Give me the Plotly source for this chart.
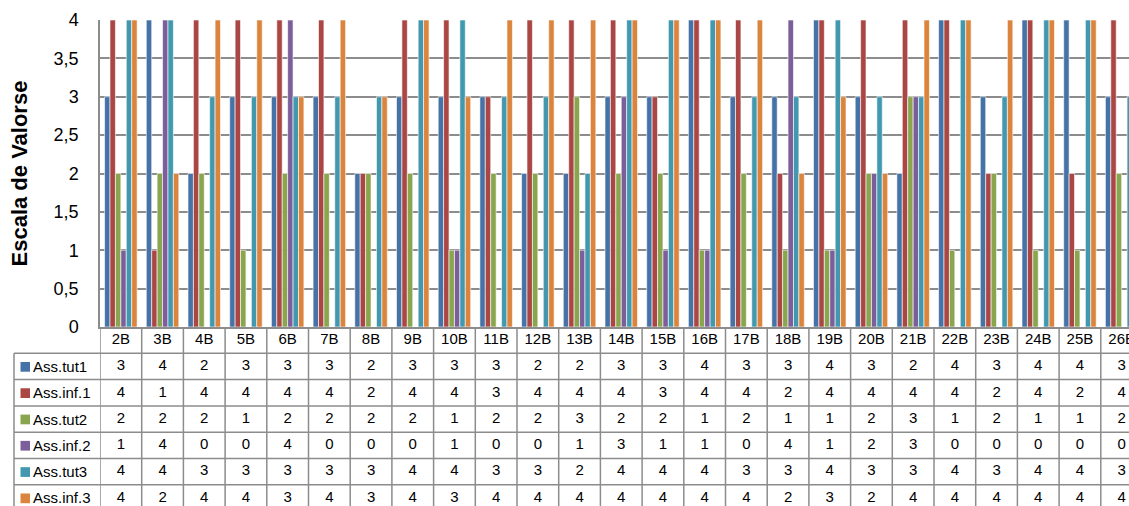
import plotly.graph_objects as go

# ---------------- data ----------------
categories = ["2B", "3B", "4B", "5B", "6B", "7B", "8B", "9B", "10B", "11B", "12B", "13B",
              "14B", "15B", "16B", "17B", "18B", "19B", "20B", "21B", "22B", "23B", "24B",
              "25B", "26B"]

series_names = ["Ass.tut1", "Ass.inf.1", "Ass.tut2", "Ass.inf.2", "Ass.tut3", "Ass.inf.3"]

ass_tut1 = [3, 4, 2, 3, 3, 3, 2, 3, 3, 3, 2, 2, 3, 3, 4, 3, 3, 4, 3, 2, 4, 3, 4, 4, 3]
ass_inf1 = [4, 1, 4, 4, 4, 4, 2, 4, 4, 3, 4, 4, 4, 3, 4, 4, 2, 4, 4, 4, 4, 2, 4, 2, 4]
ass_tut2 = [2, 2, 2, 1, 2, 2, 2, 2, 1, 2, 2, 3, 2, 2, 1, 2, 1, 1, 2, 3, 1, 2, 1, 1, 2]
ass_inf2 = [1, 4, 0, 0, 4, 0, 0, 0, 1, 0, 0, 1, 3, 1, 1, 0, 4, 1, 2, 3, 0, 0, 0, 0, 0]
ass_tut3 = [4, 4, 3, 3, 3, 3, 3, 4, 4, 3, 3, 2, 4, 4, 4, 3, 3, 4, 3, 3, 4, 3, 4, 4, 3]
ass_inf3 = [4, 2, 4, 4, 3, 4, 3, 4, 3, 4, 4, 4, 4, 4, 4, 4, 2, 3, 2, 4, 4, 4, 4, 4, 4]

y_ticks = [0, 0.5, 1, 1.5, 2, 2.5, 3, 3.5, 4]
y_title = "Escala de Valorse"

series_values = [ass_tut1, ass_inf1, ass_tut2, ass_inf2, ass_tut3, ass_inf3]
colors = ["#4572A7", "#AA4643", "#89A54E", "#7B5E9A", "#4198AF", "#DB843D"]

# ---------------- layout geometry (pixels) ----------------
W, H = 1129, 506
plot_left = 100
plot_top = 20
plot_bottom = 327
col_w = 41.7
row_h = 26.3
table_left = 14
FONT = "Liberation Sans, Arial, sans-serif"
GRID = "#8C8C8C"

n = len(categories)
x_max = -0.5 + (W - plot_left) / col_w
y2_max = -0.5 + (H - plot_bottom) / row_h

fig = go.Figure()

for name, vals, c in zip(series_names, series_values, colors):
    fig.add_trace(go.Bar(
        x=categories, y=vals, name=name,
        marker=dict(color=c, line=dict(color="white", width=0.6)),
        xaxis="x", yaxis="y", showlegend=False, hoverinfo="x+y+name",
    ))

# data table: header row
fig.add_trace(go.Scatter(
    x=categories, y=[0] * n, text=categories, mode="text",
    textfont=dict(family=FONT, size=15, color="black"),
    xaxis="x", yaxis="y2", showlegend=False, hoverinfo="skip",
))
# data table: value rows
for k, vals in enumerate(series_values):
    fig.add_trace(go.Scatter(
        x=categories, y=[k + 1] * n, text=[str(v) for v in vals], mode="text",
        textfont=dict(family=FONT, size=15, color="black"),
        xaxis="x", yaxis="y2", showlegend=False, hoverinfo="skip",
    ))

shapes = []
# vertical cell borders
for i in range(n + 1):
    shapes.append(dict(type="line", xref="x", yref="y2", x0=i - 0.5, x1=i - 0.5,
                       y0=-0.5, y1=y2_max, line=dict(color=GRID, width=1.5)))
# left border of row-label column
shapes.append(dict(type="line", xref="paper", yref="y2", x0=table_left / W, x1=table_left / W,
                   y0=0.5, y1=y2_max, line=dict(color=GRID, width=1.5)))
# horizontal row borders
for k in range(len(series_names)):
    shapes.append(dict(type="line", xref="paper", yref="y2", x0=table_left / W, x1=1,
                       y0=k + 0.5, y1=k + 0.5, line=dict(color=GRID, width=1.5)))
# legend keys
annotations = []
for k, (name, c) in enumerate(zip(series_names, colors)):
    shapes.append(dict(type="rect", xref="paper", yref="y2",
                       x0=20.5 / W, x1=30 / W, y0=k + 1 - 0.17, y1=k + 1 + 0.2,
                       fillcolor=c, line=dict(width=0)))
    annotations.append(dict(x=31 / W, y=k + 1, xref="paper", yref="y2", text=name,
                            showarrow=False, xanchor="left", yanchor="middle",
                            font=dict(family=FONT, size=15, color="black")))

annotations.append(dict(x=19 / W, y=2, xref="paper", yref="y", text="<b>" + y_title + "</b>",
                        textangle=-90, showarrow=False, xanchor="center", yanchor="middle",
                        font=dict(family=FONT, size=22, color="black")))

fig.update_layout(
    width=W, height=H,
    margin=dict(l=0, r=0, t=0, b=0, pad=0),
    paper_bgcolor="white", plot_bgcolor="white",
    separators=", ",
    barmode="group", bargap=0.22, bargroupgap=0,
    font=dict(family=FONT, color="black"),
    showlegend=False,
    xaxis=dict(type="category", domain=[plot_left / W, 1], range=[-0.5, x_max],
               showgrid=False, showticklabels=False, ticks="", showline=True,
               linecolor=GRID, linewidth=1.5, anchor="y", fixedrange=True,
               automargin=False),
    yaxis=dict(domain=[1 - plot_bottom / H, 1 - plot_top / H], range=[0, 4],
               tickvals=y_ticks, showgrid=True, gridcolor=GRID, gridwidth=1.5,
               zeroline=False, showline=True, linecolor=GRID, linewidth=1.5,
               ticks="", ticklabelstandoff=16, tickfont=dict(family=FONT, size=18, color="black"),
               anchor="x", fixedrange=True, automargin=False),
    yaxis2=dict(domain=[0, 1 - plot_bottom / H], range=[y2_max, -0.5],
                showgrid=False, showticklabels=False, zeroline=False, showline=False,
                ticks="", anchor="x", fixedrange=True, automargin=False),
    shapes=shapes,
    annotations=annotations,
)

fig.write_html("out.html", config={"displayModeBar": False},
               post_script="document.body.style.margin='0';document.body.style.overflow='hidden';")
